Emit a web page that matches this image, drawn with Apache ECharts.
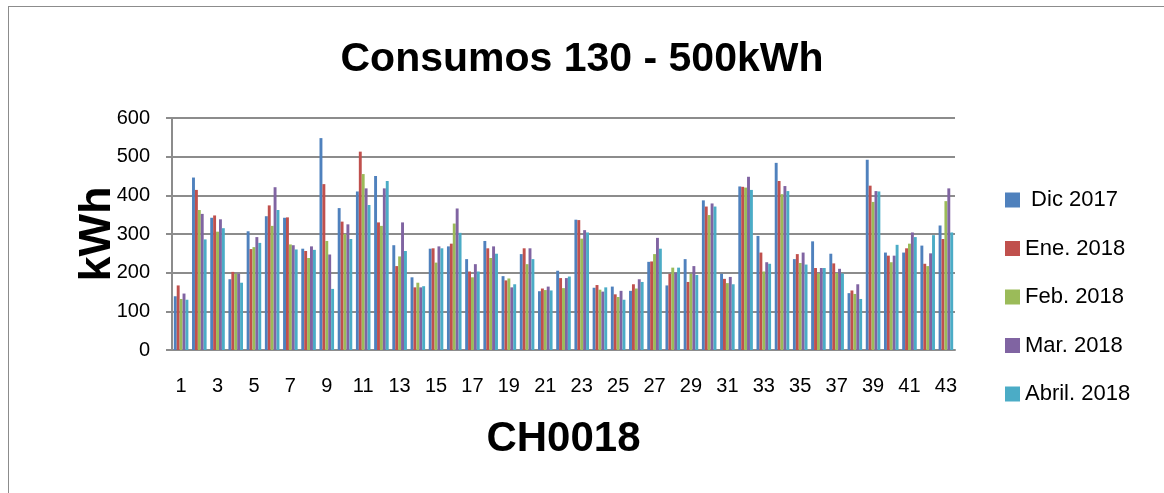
<!DOCTYPE html>
<html>
<head>
<meta charset="utf-8">
<script src="https://cdn.jsdelivr.net/npm/echarts@6/dist/echarts.min.js"></script>
<style>
  body { margin: 0; background: #fff; }
  .marco { position: absolute; left: 8px; top: 6px; width: 1170px; height: 500px; border: 1.5px solid #8c8c8c; }
  .grafico { position: absolute; left: 0; top: 0; width: 1164px; height: 493px; }
</style>
</head>
<body>
<div class="marco"></div>
<div class="grafico"></div>
<script>
// categorías del eje x: 1..43
var categorias = ['1','2','3','4','5','6','7','8','9','10','11','12','13','14','15','16','17','18','19','20','21','22',
    '23','24','25','26','27','28','29','30','31','32','33','34','35','36','37','38','39','40','41','42','43'];

var dic2017 = [139,446,342,183,307,346,342,262,548,367,410,450,271,188,262,268,235,282,191,248,152,205,
    337,161,164,153,228,167,235,387,197,423,295,484,235,281,249,147,492,252,252,270,322];
var ene2018 = [167,414,348,202,261,374,343,256,429,332,513,330,217,162,263,275,203,263,180,263,159,186,
    336,168,144,170,229,197,176,371,184,422,252,437,248,212,224,154,425,244,263,223,287];
var feb2018 = [132,362,306,197,266,321,273,238,282,300,455,321,242,174,226,327,188,238,185,222,155,160,
    288,156,137,159,248,213,197,349,173,420,203,403,225,198,199,145,383,227,275,217,385];
var mar2018 = [146,352,338,197,292,421,271,268,247,325,418,418,330,162,268,366,222,268,162,263,164,186,
    310,151,153,183,290,200,217,379,189,448,227,424,252,212,210,170,411,244,304,250,418];
var abr2018 = [130,286,315,174,277,362,260,259,158,287,375,437,256,165,263,303,203,249,170,235,154,190,
    304,162,130,176,262,213,194,371,170,414,223,411,221,212,198,132,410,272,292,297,304];

var ticksY = [0, 100, 200, 300, 400, 500, 600];

var colores = ['#4F81BD', '#C0504D', '#9BBB59', '#8064A2', '#4BACC6'];
var nombres = [' Dic 2017', 'Ene. 2018', 'Feb. 2018', 'Mar. 2018', 'Abril. 2018'];
var datos = [dic2017, ene2018, feb2018, mar2018, abr2018];

var grafico = echarts.init(document.querySelector('.grafico'));

var series = datos.map(function (d, i) {
    return {
        name: nombres[i],
        type: 'bar',
        data: d,
        barGap: '0%',
        barCategoryGap: '20%',
        itemStyle: { color: colores[i] }
    };
});

var opcion = {
    animation: false,
    color: colores,
    title: {
        text: 'Consumos 130 - 500kWh',
        left: 'center',
        top: 34,
        textStyle: { fontFamily: 'Liberation Sans', fontWeight: 'bold', fontSize: 41, color: '#000' }
    },
    legend: {
        orient: 'vertical',
        left: 1000,
        top: 184,
        itemWidth: 15,
        itemHeight: 15,
        itemGap: 26.5,
        icon: 'rect',
        textStyle: { fontFamily: 'Liberation Sans', fontSize: 22, color: '#000' },
        data: nombres
    },
    grid: { left: 172, right: 209, top: 118, bottom: 143 },
    xAxis: {
        type: 'category',
        data: categorias,
        name: 'CH0018',
        nameLocation: 'middle',
        nameGap: 68,
        nameTextStyle: { fontFamily: 'Liberation Sans', fontWeight: 'bold', fontSize: 42, color: '#000' },
        axisLine: { lineStyle: { color: '#8c8c8c', width: 2 } },
        axisTick: { show: false },
        axisLabel: { interval: 1, margin: 26, fontFamily: 'Liberation Sans', fontSize: 20, color: '#000' }
    },
    yAxis: {
        type: 'value',
        min: ticksY[0],
        max: ticksY[ticksY.length - 1],
        interval: 100,
        name: 'kWh',
        nameLocation: 'middle',
        nameGap: 52,
        nameMoveOverlap: false,
        nameTextStyle: { fontFamily: 'Liberation Sans', fontWeight: 'bold', fontSize: 45, color: '#000' },
        axisLine: { show: true, lineStyle: { color: '#8c8c8c', width: 2 } },
        axisTick: { show: true, length: 6, lineStyle: { color: '#8c8c8c', width: 2 } },
        splitLine: { lineStyle: { color: '#8c8c8c', width: 2 } },
        axisLabel: { margin: 22, fontFamily: 'Liberation Sans', fontSize: 20, color: '#000' }
    },
    series: series
};

grafico.setOption(opcion);
</script>
</body>
</html>
